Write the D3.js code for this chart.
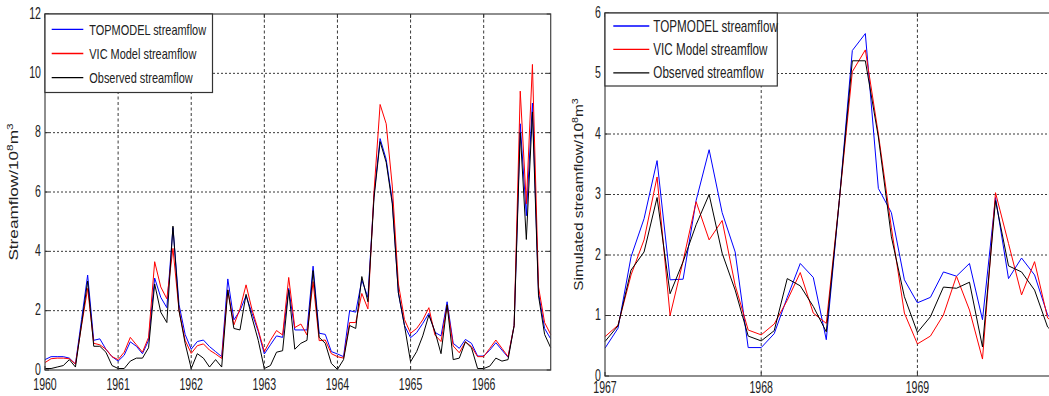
<!DOCTYPE html>
<html>
<head>
<meta charset="utf-8">
<script src="https://cdn.jsdelivr.net/npm/d3@7"></script>
<style>
    html, body { margin: 0; padding: 0; background: #fff; }
    text { font-family: 'Liberation Sans', Arial, sans-serif; fill: #222; }
</style>
</head>
<body>
<div id="chart-container"></div>
<script>
// monthly streamflow, 10^8 m^3
const leftStartYear = 1960;
const leftTicks = [1960, 1961, 1962, 1963, 1964, 1965, 1966];
const leftYTicks = [0, 2, 4, 6, 8, 10, 12];

const leftTopmodel = [
    0.35, 0.45, 0.45, 0.45, 0.4, 0.2, 1.7, 3.2, 1.0, 1.05, 0.7, 0.45,
    0.3, 0.5, 0.95, 0.8, 0.55, 1.0, 3.1, 2.45, 2.1, 4.8, 2.2, 1.2,
    0.7, 0.96, 1.01, 0.79, 0.62, 0.45, 3.07, 1.69, 2.0, 2.5, 1.9, 1.3,
    0.54, 0.85, 1.15, 1.1, 2.75, 1.35, 1.35, 1.35, 3.5, 1.24, 1.2, 0.62,
    0.54, 0.45, 2.0, 1.95, 3.03, 2.45, 5.9, 7.8, 7.1, 5.7, 2.6, 1.5,
    1.09, 1.26, 1.57, 1.91, 1.27, 1.15, 2.3, 0.9, 0.73, 1.03, 0.9, 0.47,
    0.47, 0.67, 0.92, 0.67, 0.43, 1.5, 8.3, 5.2, 9.0, 2.6, 1.4, 1.05,
];
const leftVic = [
    0.25, 0.38, 0.4, 0.4, 0.38, 0.2, 1.5, 2.75, 0.9, 0.85, 0.7, 0.45,
    0.35, 0.6, 1.1, 0.85, 0.6, 1.1, 3.65, 2.8, 2.4, 4.1, 2.0, 1.0,
    0.56, 0.82, 0.88, 0.67, 0.54, 0.39, 2.7, 1.52, 2.06, 2.87, 2.02, 1.35,
    0.62, 1.0, 1.33, 1.18, 3.12, 1.43, 1.55, 1.18, 2.98, 0.99, 1.01, 0.55,
    0.45, 0.4, 1.6, 1.6, 2.58, 2.06, 6.0, 8.95, 8.3, 6.2, 2.9, 1.7,
    1.24, 1.4, 1.69, 2.1, 1.18, 0.96, 2.19, 0.81, 0.58, 0.95, 0.79, 0.45,
    0.45, 0.73, 1.01, 0.73, 0.45, 1.5, 9.4, 5.6, 10.3, 2.8, 1.6, 1.2,
];
const leftObserved = [
    0.05, 0.05, 0.1, 0.15, 0.35, 0.1, 1.55, 3.0, 0.8, 0.8, 0.6, 0.15,
    0.05, 0.05, 0.3, 0.4, 0.4, 0.75, 2.9, 1.95, 1.6, 4.85, 2.0, 0.9,
    0.05, 0.55, 0.4, 0.1, 0.35, 0.1, 2.7, 1.4, 1.35, 2.55, 1.75, 1.0,
    0.05, 0.15, 0.6, 0.65, 2.7, 0.7, 0.9, 1.0, 3.35, 1.1, 0.9, 0.22,
    0.02, 0.35, 1.5, 1.4, 3.15, 2.3, 5.8, 7.7, 7.0, 5.6, 2.6, 1.5,
    0.28, 0.62, 1.15, 1.85, 1.3, 0.55, 2.2, 0.35, 0.4, 0.95, 0.75, 0.05,
    0.05, 0.13, 0.4, 0.3, 0.35, 1.5, 8.0, 4.4, 8.7, 2.5, 1.2, 0.75,
];

const rightStartYear = 1967;
const rightTicks = [1967, 1968, 1969, 1970];
const rightYTicks = [0, 1, 2, 3, 4, 5, 6];

const rightTopmodel = [
    0.46, 0.79, 1.97, 2.6, 3.56, 1.59, 1.6, 2.9, 3.74, 2.7, 2.05, 0.47,
    0.47, 0.7, 1.3, 1.86, 1.63, 0.6, 2.9, 5.38, 5.66, 3.1, 2.7, 1.59,
    1.21, 1.3, 1.72, 1.65, 1.86, 0.93, 2.95, 1.61, 1.95, 1.67, 1.01, 0.8,
];
const rightVic = [
    0.65, 0.84, 1.67, 2.25, 3.29, 1.0, 1.9, 2.88, 2.25, 2.57, 1.5, 0.76,
    0.68, 0.86, 1.25, 1.71, 1.04, 0.87, 2.9, 5.03, 5.39, 4.0, 2.45, 1.04,
    0.53, 0.66, 1.01, 1.65, 1.09, 0.28, 3.03, 2.19, 1.34, 1.89, 0.96, 0.8,
];
const rightObserved = [
    0.57, 0.83, 1.75, 2.05, 2.95, 1.36, 1.89, 2.5, 3.0, 2.03, 1.42, 0.66,
    0.58, 0.75, 1.61, 1.49, 1.15, 0.73, 2.9, 5.21, 5.21, 3.95, 2.3, 1.31,
    0.72, 0.98, 1.47, 1.45, 1.55, 0.48, 2.9, 1.82, 1.72, 1.42, 0.81, 0.6,
];

const seriesNames = ['TOPMODEL streamflow', 'VIC Model streamflow', 'Observed streamflow'];
const seriesColors = ['#0000ff', '#ff0000', '#000000'];

const WIDTH = 1049;
const HEIGHT = 396;
const TICK_SIZE = 4;
const SX = 0.66; // the source picture is squeezed horizontally
const TICK_FONT = 16;

const svg = d3
    .select('#chart-container')
    .append('svg')
    .attr('width', WIDTH)
    .attr('height', HEIGHT)
    .attr('viewBox', [0, 0, WIDTH, HEIGHT]);

function drawPanel(cfg) {
    const x = d3.scaleLinear().domain(cfg.xDomain).range([cfg.left, cfg.right]);
    const y = d3.scaleLinear().domain(cfg.yDomain).range([cfg.bottom, cfg.top]);
    const g = svg.append('g');

    // grid
    g.selectAll('line.vgrid')
        .data(cfg.xTicks.filter((t) => t > cfg.xDomain[0]))
        .join('line')
        .attr('x1', (d) => x(d))
        .attr('x2', (d) => x(d))
        .attr('y1', cfg.top)
        .attr('y2', cfg.bottom)
        .attr('stroke', '#222')
        .attr('stroke-width', 0.9)
        .attr('stroke-dasharray', '3,2.5');
    g.selectAll('line.hgrid')
        .data(cfg.yTicks.filter((t) => t > cfg.yDomain[0] && t < cfg.yDomain[1]))
        .join('line')
        .attr('x1', cfg.left)
        .attr('x2', cfg.right)
        .attr('y1', (d) => y(d))
        .attr('y2', (d) => y(d))
        .attr('stroke', '#222')
        .attr('stroke-width', 0.9)
        .attr('stroke-dasharray', '2,2');

    // lines
    const line = d3
        .line()
        .x((d, i) => x(cfg.startYear + i / 12))
        .y((d) => y(d));
    cfg.series.forEach((values, k) => {
        g.append('path')
            .datum(values)
            .attr('d', line)
            .attr('fill', 'none')
            .attr('stroke', seriesColors[k])
            .attr('stroke-width', 1)
            .attr('stroke-linejoin', 'miter');
    });

    // frame + inward ticks
    g.append('rect')
        .attr('x', cfg.left)
        .attr('y', cfg.top)
        .attr('width', cfg.right - cfg.left)
        .attr('height', cfg.bottom - cfg.top)
        .attr('fill', 'none')
        .attr('stroke', '#444')
        .attr('stroke-width', 1.2);
    const xt = cfg.xTicks;
    g.selectAll('line.xtick')
        .data(xt.flatMap((t) => [[t, cfg.bottom, -TICK_SIZE], [t, cfg.top, TICK_SIZE]]))
        .join('line')
        .attr('x1', (d) => x(d[0]))
        .attr('x2', (d) => x(d[0]))
        .attr('y1', (d) => d[1])
        .attr('y2', (d) => d[1] + d[2])
        .attr('stroke', '#333');
    g.selectAll('line.ytick')
        .data(cfg.yTicks.flatMap((t) => [[t, cfg.left, TICK_SIZE], [t, cfg.right, -TICK_SIZE]]))
        .join('line')
        .attr('x1', (d) => d[1])
        .attr('x2', (d) => d[1] + d[2])
        .attr('y1', (d) => y(d[0]))
        .attr('y2', (d) => y(d[0]))
        .attr('stroke', '#333');

    // tick labels
    g.selectAll('text.xlab')
        .data(xt)
        .join('text')
        .attr('transform', (d) => `translate(${x(d)},${cfg.xLabelY}) scale(${SX},1)`)
        .attr('text-anchor', 'middle')
        .attr('font-size', TICK_FONT)
        .text((d) => d);
    g.selectAll('text.ylab')
        .data(cfg.yTicks)
        .join('text')
        .attr('transform', (d) => `translate(${cfg.left - 4},${y(d) + 4.5}) scale(${SX},1)`)
        .attr('text-anchor', 'end')
        .attr('font-size', TICK_FONT)
        .text((d) => d);

    // y title, stretched along the reading direction
    const title = g
        .append('text')
        .attr('transform', `translate(${cfg.titleX},${(cfg.top + cfg.bottom) / 2}) rotate(-90) scale(${cfg.titleStretch},1)`)
        .attr('text-anchor', 'middle')
        .attr('font-size', 13);
    title.append('tspan').text(cfg.title + '/10');
    title.append('tspan').attr('font-size', 9).attr('dy', -5).text('8');
    title.append('tspan').attr('dy', 5).text('m');
    title.append('tspan').attr('font-size', 9).attr('dy', -5).text('3');

    // legend
    const lg = cfg.legend;
    g.append('rect')
        .attr('x', cfg.left)
        .attr('y', cfg.top)
        .attr('width', lg.w)
        .attr('height', lg.h)
        .attr('fill', '#fff')
        .attr('stroke', '#333')
        .attr('stroke-width', 1.2);
    seriesNames.forEach((name, k) => {
        const ly = lg.y0 + k * lg.step;
        g.append('line')
            .attr('x1', lg.x1)
            .attr('x2', lg.x2)
            .attr('y1', ly)
            .attr('y2', ly)
            .attr('stroke', seriesColors[k])
            .attr('stroke-width', 1.3);
        g.append('text')
            .attr('transform', `translate(${lg.tx},${ly + 5.5}) scale(0.73,1)`)
            .attr('font-size', lg.fs)
            .text(name);
    });
}

drawPanel({
    startYear: leftStartYear,
    xDomain: [leftStartYear, leftStartYear + 83 / 12],
    yDomain: [0, 12],
    xTicks: leftTicks,
    yTicks: leftYTicks,
    left: 45,
    right: 550.7,
    top: 14,
    bottom: 370,
    xLabelY: 390,
    series: [leftTopmodel, leftVic, leftObserved],
    title: 'Streamflow',
    titleX: 18,
    titleStretch: 1.32,
    legend: { w: 167.5, h: 78.5, y0: 29.3, step: 24.2, x1: 51.7, x2: 83.3, tx: 89.3, fs: 15 },
});

drawPanel({
    startYear: rightStartYear,
    xDomain: [rightStartYear, rightStartYear + 35 / 12],
    yDomain: [0, 6],
    xTicks: rightTicks.filter((t) => t <= rightStartYear + 35 / 12),
    yTicks: rightYTicks,
    left: 605,
    right: 1060.6,
    top: 13,
    bottom: 376,
    xLabelY: 392.5,
    series: [rightTopmodel, rightVic, rightObserved],
    title: 'Simulated streamflow',
    titleX: 583,
    titleStretch: 1.18,
    legend: { w: 172.3, h: 73, y0: 26, step: 23.4, x1: 613.3, x2: 649.3, tx: 653.3, fs: 16 },
});
</script>
</body>
</html>
